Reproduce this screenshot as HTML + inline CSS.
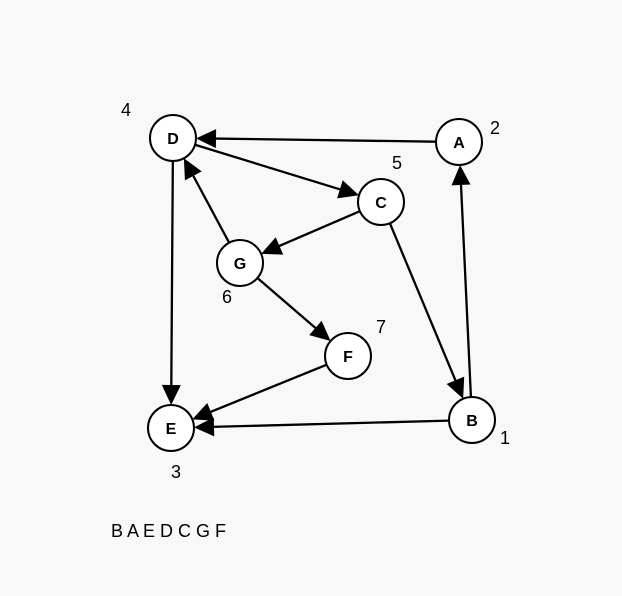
<!DOCTYPE html>
<html><head><meta charset="utf-8">
<style>
html,body{margin:0;padding:0;background:#f8f8f8;}
svg{display:block;}
text{font-family:"Liberation Sans",sans-serif;}
</style></head>
<body>
<svg id="g" width="622" height="596" viewBox="0 0 622 596">
<rect width="622" height="596" fill="#f8f8f8"/>
</svg>
<script>
const nodeNames = ["A","B","C","D","E","F","G"];
const nodeX = [459,472,381,173,171,348,240];
const nodeY = [142,420,202,138,428,356,263];
const orderNums = ["2","1","5","4","3","7","6"];
const numX = [495,505,397,126,176,381,227];
const numY = [128,438,163,110,472,327,297];
const edgeFrom = ["A","D","C","G","G","F","D","C","B","B"];
const edgeTo   = ["D","C","G","D","F","E","E","B","A","E"];
const orderText = "B A E D C G F";

const NS="http://www.w3.org/2000/svg";
const svg=document.getElementById('g');
const R=23;
function mk(t,a){const e=document.createElementNS(NS,t);for(const k in a)e.setAttribute(k,a[k]);svg.appendChild(e);return e;}
function idx(n){return nodeNames.indexOf(n);}

for(let i=0;i<edgeFrom.length;i++){
  const a=idx(edgeFrom[i]),b=idx(edgeTo[i]);
  const x1=nodeX[a],y1=nodeY[a],x2=nodeX[b],y2=nodeY[b];
  const d=Math.hypot(x2-x1,y2-y1),ux=(x2-x1)/d,uy=(y2-y1)/d;
  const sx=x1+ux*R,sy=y1+uy*R,tx=x2-ux*R,ty=y2-uy*R;
  const L=20,W=9.5;
  const bx=tx-ux*L,by=ty-uy*L;
  const ln=mk('line',{x1:sx,y1:sy,x2:bx+ux*2,y2:by+uy*2,stroke:'#000','stroke-width':2.3});
  
  
  const p=mk('polygon',{points:`${tx},${ty} ${bx-uy*W},${by+ux*W} ${bx+uy*W},${by-ux*W}`,fill:'#000'});
  
  
}
for(let i=0;i<nodeNames.length;i++){
  const c=mk('circle',{cx:nodeX[i],cy:nodeY[i],r:R,fill:'#fff',stroke:'#000','stroke-width':2});
  
  
  const t=mk('text',{x:nodeX[i],y:nodeY[i]+6,'text-anchor':'middle','font-size':16,'font-weight':'bold'});
  t.textContent=nodeNames[i];
  
  
  const n=mk('text',{x:numX[i],y:numY[i]+6,'text-anchor':'middle','font-size':18});
  n.textContent=orderNums[i];
  
  
}
const ot=mk('text',{x:111,y:537,'font-size':18});
ot.textContent=orderText;


</script>
</body></html>
